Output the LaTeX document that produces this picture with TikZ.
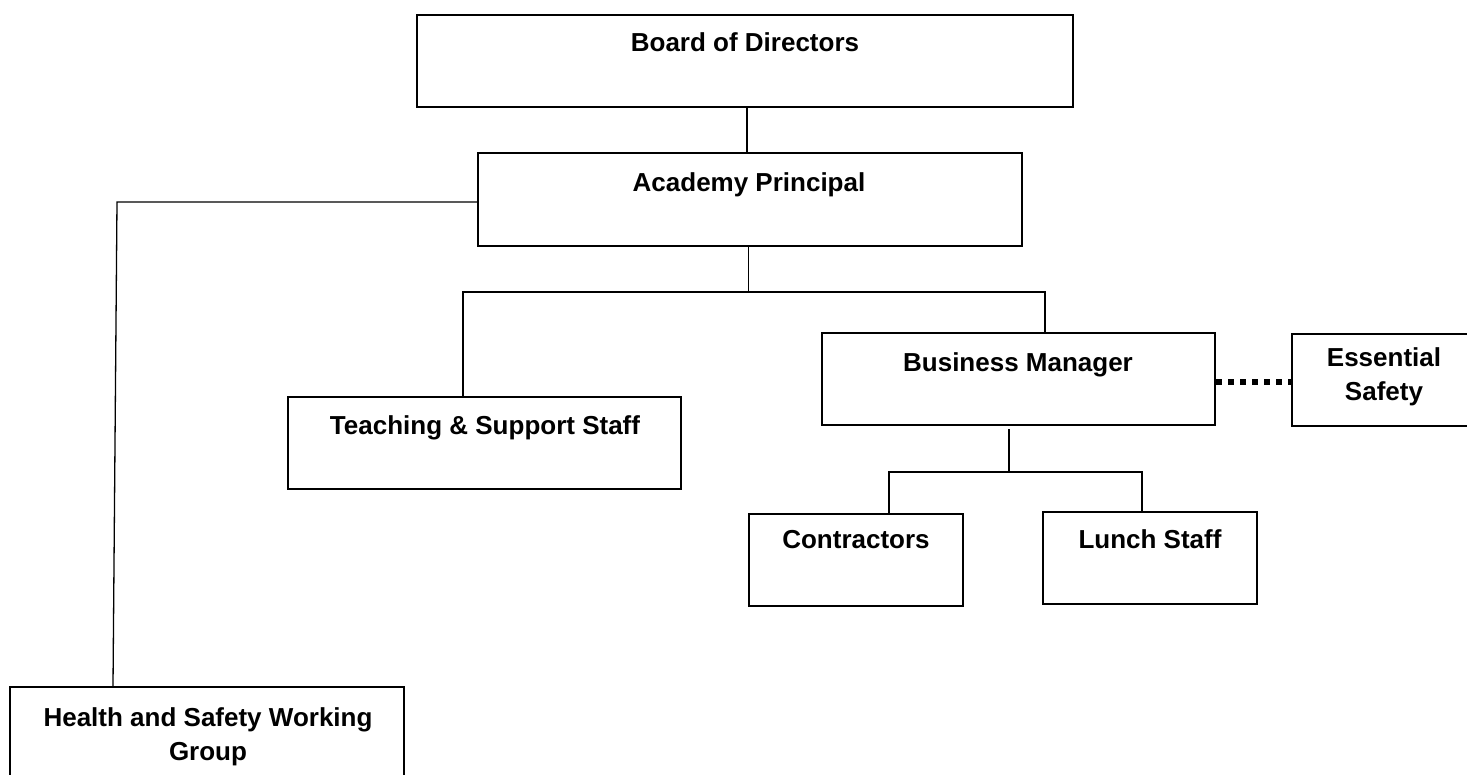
\documentclass[tikz,border=0pt]{standalone}
\usepackage{fontspec}
\setmainfont{Liberation Sans}
\usetikzlibrary{calc}
\begin{document}
\begin{tikzpicture}[x=1pt,y=-1pt,
  box/.style={draw=black,line width=2pt,rectangle,inner sep=0pt},
  lbl/.style={font=\bfseries\fontsize{26}{34}\selectfont,inner sep=0pt,align=center},
  conn/.style={draw=black,line width=1.3pt},
  dots/.style={draw=black,line width=6pt,dash pattern=on 6pt off 6pt}]
\clip (0,0) rectangle (1467,775);
\fill[white] (0,0) rectangle (1467,775);
% boxes
\node[box,minimum width=656pt,minimum height=92pt] (board) at (745,61) {};
\node[box,minimum width=544pt,minimum height=93pt] (acad) at (750,199.5) {};
\node[box,minimum width=393pt,minimum height=92pt] (teach) at (484.5,443) {};
\node[box,minimum width=393pt,minimum height=92pt] (bus) at (1018.5,379) {};
\node[box,minimum width=190pt,minimum height=92pt] (ess) at (1387,380) {};
\node[box,minimum width=214pt,minimum height=92pt] (con) at (856,560) {};
\node[box,minimum width=214pt,minimum height=92pt] (lunch) at (1150,558) {};
\node[box,minimum width=394pt,minimum height=110pt] (hs) at (207,742) {};
% labels
\node[lbl,anchor=base] (tboard) at (745,52) {Board of Directors};
\node[lbl,anchor=base] (tacad) at (749,192) {Academy Principal};
\node[lbl,anchor=base] (tteach) at (485,434) {Teaching \& Support Staff};
\node[lbl,anchor=base] (tbus) at (1018,372) {Business Manager};
\node[lbl] (tess) at (1384,377) {Essential\\Safety};
\node[lbl,anchor=base] (tcon) at (856,548) {Contractors};
\node[lbl,anchor=base] (tlunch) at (1150,548) {Lunch Staff};
\node[lbl] (ths) at (208,737) {Health and Safety Working\\Group};
% connectors
\coordinate (b1) at (747,0);
\draw[conn] (b1 |- board.south) -- (b1 |- acad.north);
\coordinate (h1) at (117,202);
\coordinate (h2) at (113,0);
\draw[conn] (acad.west |- h1) -- (h1) -- (h2 |- hs.north);
\coordinate (a1) at (748.6,292);
\coordinate (tl) at (463,292);
\coordinate (tr) at (1045,292);
\draw[conn] (a1 |- acad.south) -- (a1);
\draw[conn] (tl |- teach.north) -- (tl) -- (tr) -- (tr |- bus.north);
\coordinate (m1) at (1009,429);
\coordinate (m2) at (1009,472);
\coordinate (cl) at (889,472);
\coordinate (cr) at (1142,472);
\draw[conn] (m1) -- (m2);
\draw[conn] (cl |- con.north) -- (cl) -- (cr) -- (cr |- lunch.north);
\coordinate (d1) at (0,382);
\draw[dots] (bus.east |- d1) -- (ess.west |- d1);
\end{tikzpicture}
\end{document}
